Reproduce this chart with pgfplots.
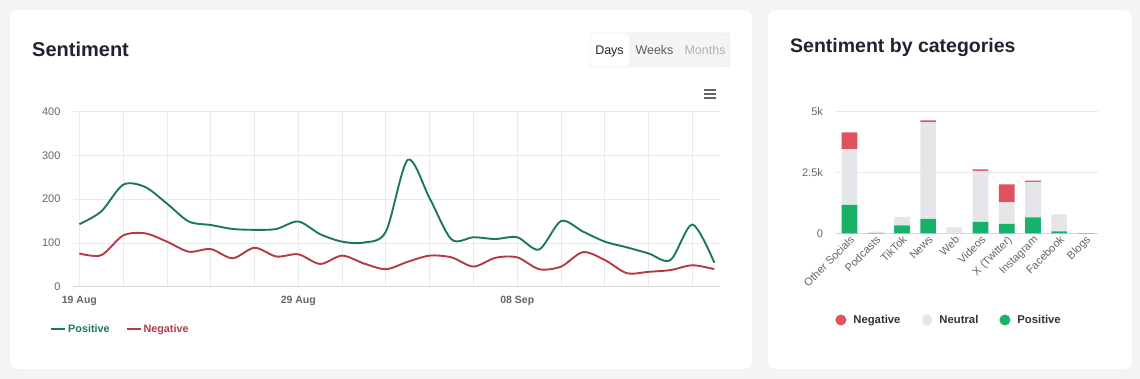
\documentclass[border=0pt]{standalone}
\usepackage{fontspec}
\setmainfont{Liberation Sans}
\usepackage{pgfplots}
\pgfplotsset{compat=1.18}
\usepackage{pgfplotstable}
\definecolor{bg}{HTML}{F3F4F6}
\definecolor{gridc}{HTML}{EAEAEA}
\definecolor{axisc}{HTML}{D6D6D6}
\definecolor{tickc}{HTML}{666666}
\definecolor{titlec}{HTML}{1F2430}
\definecolor{posline}{HTML}{1B7A4F}
\definecolor{negline}{HTML}{B53A46}
\definecolor{posbar}{HTML}{17B26A}
\definecolor{neubar}{HTML}{E4E6E9}
\definecolor{negbar}{HTML}{E0525E}

\pgfplotstableread{
day pos neg
0 143 76
1 172 72
2 233 117
3 228 122
4 190 103
5 149 80
6 141 86
7 132 65
8 130 89
9 132 69
10 149 74
11 120 52
12 103 71
13 101 53
14 126 40
15 290 57
16 202 71
17 108 67
18 113 46
19 109 66
20 113 67
21 85 40
22 150 46
23 126 79
24 103 61
25 90 31
26 76 34
27 61 38
28 142 49
29 55 40
}\linedata

\pgfplotstableread{
idx pos neu neg
0 1164 2302 685
1 10 60 0
2 329 342 0
3 589 3973 82
4 0 247 0
5 466 2096 68
6 384 890 740
7 658 1452 55
8 82 699 0
9 5 10 0
}\bardata

\begin{document}
\begin{tikzpicture}[x=1pt,y=1pt]
\useasboundingbox (0,0) rectangle (1140,379);
\fill[bg] (0,0) rectangle (1140,379);
\fill[white, rounded corners=8pt] (10,10) rectangle (752,369);
\fill[white, rounded corners=8pt] (768,10) rectangle (1132,369);
\node[anchor=base west, font=\fontsize{20}{24}\selectfont\bfseries, text=titlec, inner sep=0] at (32,322) {Sentiment};
\node[anchor=base west, font=\fontsize{19.5}{24}\selectfont\bfseries, text=titlec, inner sep=0] at (790,326) {Sentiment by categories};
% buttons
\filldraw[fill=bg, draw=gridc, rounded corners=3pt] (590,312) rectangle (730,346);
\fill[white, rounded corners=3pt] (590.5,312.5) rectangle (629,345.5);
\node[anchor=base, font=\fontsize{12.5}{14}\selectfont, text=titlec, inner sep=0] at (609.5,324.5) {Days};
\node[anchor=base, font=\fontsize{12.5}{14}\selectfont, text=tickc!90!black, inner sep=0] at (654.5,324.5) {Weeks};
\node[anchor=base, font=\fontsize{12.5}{14}\selectfont, text=black!30, inner sep=0] at (705,324.5) {Months};
% menu icon
\foreach \yy in {281,285,289} {\draw[tickc, line width=1.5pt] (704,\yy) -- (716,\yy);}

% left chart
\begin{axis}[at={(73pt,92.3pt)}, anchor=south west, scale only axis,
  width=647pt, height=175pt,
  xmin=-0.29, xmax=29.26, ymin=0, ymax=400,
  ytick={0,100,...,400},
  xtick={0,10,20}, xticklabels={19 Aug,29 Aug,08 Sep},
  minor xtick={2,4,...,28},
  xmajorgrids, xminorgrids, ymajorgrids,
  major grid style={color=gridc, line width=0.8pt},
  minor grid style={color=gridc, line width=0.8pt},
  axis x line*=bottom, axis y line*=left,
  x axis line style={draw=axisc, line width=0.8pt},
  y axis line style={draw=none},
  tick style={draw=none},
  /pgf/number format/assume math mode=true,
  yticklabel style={font=\fontsize{11}{13}\selectfont, text=tickc, xshift=-9pt},
  xticklabel style={font=\fontsize{10.5}{12}\selectfont\bfseries, text=tickc, yshift=-6pt},
  legend columns=2,
  legend style={at={(-0.04,-0.242)}, anchor=west, draw=none, fill=none,
    font=\fontsize{10.8}{12}\selectfont\bfseries,
    /tikz/every even column/.append style={column sep=14pt},
    /tikz/every odd column/.append style={column sep=0pt}},
  legend image code/.code={\draw[#1] (0pt,0pt) -- (14pt,0pt);},
  clip=false,
]
\addplot[posline, line width=1.9pt, smooth, tension=0.5] table[x=day,y=pos]{\linedata};
\addlegendentry{\textcolor{posline}{Positive}}
\addplot[negline, line width=1.9pt, smooth, tension=0.5] table[x=day,y=neg]{\linedata};
\addlegendentry{\textcolor{negline}{Negative}}
\end{axis}

% right chart
\begin{axis}[at={(836.4pt,145.7pt)}, anchor=south west, scale only axis,
  width=262pt, height=121.6pt,
  ybar stacked, bar width=15.7pt,
  xmin=-0.5, xmax=9.5, ymin=0, ymax=5000,
  xtick={0,...,9},
  xticklabels={Other Socials,Podcasts,TikTok,News,Web,Videos,X (Twitter),Instagram,Facebook,Blogs},
  ytick={0,2500,5000}, yticklabels={0,2.5k,5k},
  ymajorgrids,
  major grid style={color=gridc, line width=0.8pt},
  axis x line*=bottom, axis y line*=left,
  x axis line style={draw=axisc, line width=0.8pt},
  y axis line style={draw=none},
  tick style={draw=none},
  yticklabel style={font=\fontsize{11}{13}\selectfont, text=tickc, xshift=-10pt},
  xticklabel style={rotate=45, anchor=north east, font=\fontsize{11}{13}\selectfont, text=tickc, inner sep=1pt},
  legend columns=3,
  reverse legend,
  legend style={at={(0.43,-0.713)}, anchor=center, draw=none, fill=none,
    font=\fontsize{11.3}{13}\selectfont\bfseries, text=black!80,
    /tikz/every odd column/.append style={column sep=5pt},
    /tikz/every even column/.append style={column sep=19pt}},
  legend image code/.code={\fill[#1] (3pt,0pt) circle (5.5pt);},
  clip=false,
]
\addplot[fill=posbar, draw=none] table[x=idx,y=pos]{\bardata};
\addplot[fill=neubar, draw=none] table[x=idx,y=neu]{\bardata};
\addplot[fill=negbar, draw=none] table[x=idx,y=neg]{\bardata};
\legend{Positive,Neutral,Negative}
\end{axis}
\end{tikzpicture}
\end{document}
